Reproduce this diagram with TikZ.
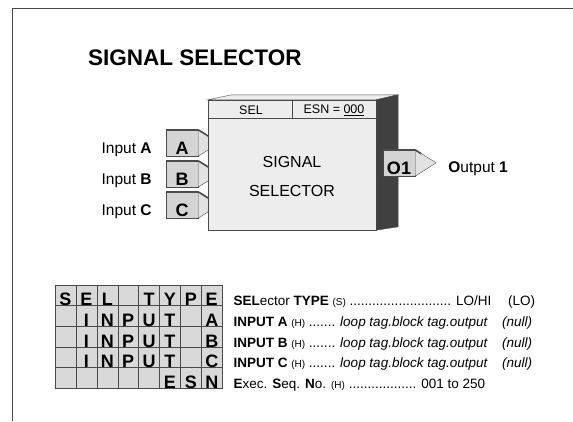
\documentclass[tikz,border=0pt]{standalone}
\usepackage{fontspec}
\setmainfont{Liberation Sans}
\usetikzlibrary{positioning,calc}
\definecolor{face-light}{HTML}{EDEDED}
\definecolor{face-dark}{HTML}{404040}
\definecolor{tab-gray}{HTML}{D4D4D4}
\definecolor{tab-light}{HTML}{E2E2E2}
\definecolor{grid-gray}{HTML}{D9D9D9}
\definecolor{line-gray}{HTML}{4A4A4A}
\tikzset{
  blockface/.style={
    rectangle, draw=line-gray, fill=face-light,
    minimum width=168pt, minimum height=130pt, inner sep=0pt
  },
  pintab/.style={
    rectangle, draw=line-gray, fill=tab-gray,
    minimum width=32pt, minimum height=26pt, inner sep=0pt
  },
  tabchar/.style={
    font=\fontsize{18}{20}\selectfont\bfseries, inner sep=0pt
  },
  pinlabel/.style={
    font=\fontsize{15.5}{18}\selectfont, inner sep=0pt
  },
  hdrtext/.style={
    font=\fontsize{12.5}{14}\selectfont, inner sep=0pt
  },
  gridcell/.style={
    rectangle, draw=line-gray, fill=grid-gray,
    minimum width=20.9pt, minimum height=20.6pt, inner sep=0pt
  },
  gridchar/.style={
    font=\fontsize{18}{18}\selectfont\bfseries, inner sep=0pt, anchor=base
  },
  paramline/.style={
    font=\fontsize{13.5}{16}\selectfont, inner sep=0pt
  },
  bevel/.style={line-gray, line width=1.6pt},
}
\newcommand{\smallcode}[1]{{\fontsize{10}{10}\selectfont #1}}

\begin{document}
\begin{tikzpicture}[x=1pt, y=-1pt]
  \useasboundingbox (0,0) rectangle (573,421);
  \draw[line-gray, thin] (12,421) -- (12,8) -- (573,8);

  \node[font=\fontsize{22.5}{26}\selectfont\bfseries, inner sep=0pt, anchor=base west]
    (title) at (88,65) {SIGNAL SELECTOR};

  % input pins
  \foreach \p/\y in {A/143,B/174,C/205} {
    \node[pintab] (in\p) at (182,\y) {};
    \filldraw[draw=line-gray, fill=tab-light] (in\p.north east) -- ++(21,13) -- (in\p.south east) -- cycle;
    \draw[bevel] (in\p.north east) -- ++(21,13);
    \draw[bevel] (in\p.north west) -- (in\p.north east);
    \node[tabchar, anchor=base] at ($(in\p.south)+(0,-2)$) {\p};
    \node[pinlabel, anchor=base east] (lab\p) at ($(in\p.south west)+(-14,-3)$) {Input \textbf{\p}};
  }

  % block body
  \node[blockface] (blk) at (292,165) {};
  \filldraw[draw=line-gray, fill=face-light] (blk.north west) -- ++(24,-5) -- ++(166,0) -- (blk.north east) -- cycle;
  \filldraw[draw=line-gray, fill=face-dark] (blk.north east) -- ++(22,-5) -- ++(0,132) -- (blk.south east) -- cycle;
  \draw[line-gray] ($(blk.north west)+(0,18)$) -- ($(blk.north east)+(0,18)$);
  \draw[line-gray] (blk.north) -- ++(0,18);
  \node[hdrtext] (sel) at (251,110) {SEL};
  \node[hdrtext] (esn) at (334,110) {ESN = \underline{000}};
  \node[font=\fontsize{16}{29}\selectfont, align=center, inner sep=0pt] (bname) at (292,176) {SIGNAL\\SELECTOR};

  % output pin
  \node[pintab] (out1) at (399,163) {};
  \filldraw[draw=line-gray, fill=tab-light] (out1.north east) -- ++(21,13) -- (out1.south east) -- cycle;
  \draw[bevel] (out1.north east) -- ++(6,4);
  \draw[bevel] (out1.north west) -- (out1.north east);
  \node[tabchar, anchor=base] at ($(out1.south)+(0,-2)$) {O1};
  \node[pinlabel, anchor=base west] (outlab) at ($(out1.south east)+(33,-4)$) {\textbf{O}utput \textbf{1}};

  % configuration grid
  \foreach \r in {0,...,4}
    \foreach \c in {0,...,7}
      \node[gridcell] (g-\r-\c) at (65.45+20.9*\c, 295.3+20.6*\r) {};
  \foreach \r/\c/\l in {0/0/S,0/1/E,0/2/L,0/4/T,0/5/Y,0/6/P,0/7/E,
                        1/1/I,1/2/N,1/3/P,1/4/U,1/5/T,1/7/A,
                        2/1/I,2/2/N,2/3/P,2/4/U,2/5/T,2/7/B,
                        3/1/I,3/2/N,3/3/P,3/4/U,3/5/T,3/7/C,
                        4/5/E,4/6/S,4/7/N}
    \node[gridchar] at (g-\r-\c.south) {\l};

  % parameter list
  \node[paramline, anchor=base west] (par0) at ($(g-0-7.south east)+(11,0)$)
    {\textbf{SEL}ector \textbf{TYPE} \smallcode{(S)} ........................... LO/HI};
  \node[paramline, anchor=base west] (par1) at ($(g-1-7.south east)+(11,0)$)
    {\textbf{INPUT A} \smallcode{(H)} ....... \textit{loop tag.block tag.output}};
  \node[paramline, anchor=base west] (par2) at ($(g-2-7.south east)+(11,0)$)
    {\textbf{INPUT B} \smallcode{(H)} ....... \textit{loop tag.block tag.output}};
  \node[paramline, anchor=base west] (par3) at ($(g-3-7.south east)+(11,0)$)
    {\textbf{INPUT C} \smallcode{(H)} ....... \textit{loop tag.block tag.output}};
  \node[paramline, anchor=base west] (par4) at ($(g-4-7.south east)+(11,0)$)
    {\textbf{E}xec. \textbf{S}eq. \textbf{N}o. \smallcode{(H)} .................. 001 to 250};
  \node[paramline, anchor=base east] (def0) at ($(g-0-7.south east)+(313,0)$) {(LO)};
  \node[paramline, anchor=base east] (def1) at ($(g-1-7.south east)+(310,0)$) {\textit{(null)}};
  \node[paramline, anchor=base east] (def2) at ($(g-2-7.south east)+(310,0)$) {\textit{(null)}};
  \node[paramline, anchor=base east] (def3) at ($(g-3-7.south east)+(310,0)$) {\textit{(null)}};
\end{tikzpicture}
\end{document}
